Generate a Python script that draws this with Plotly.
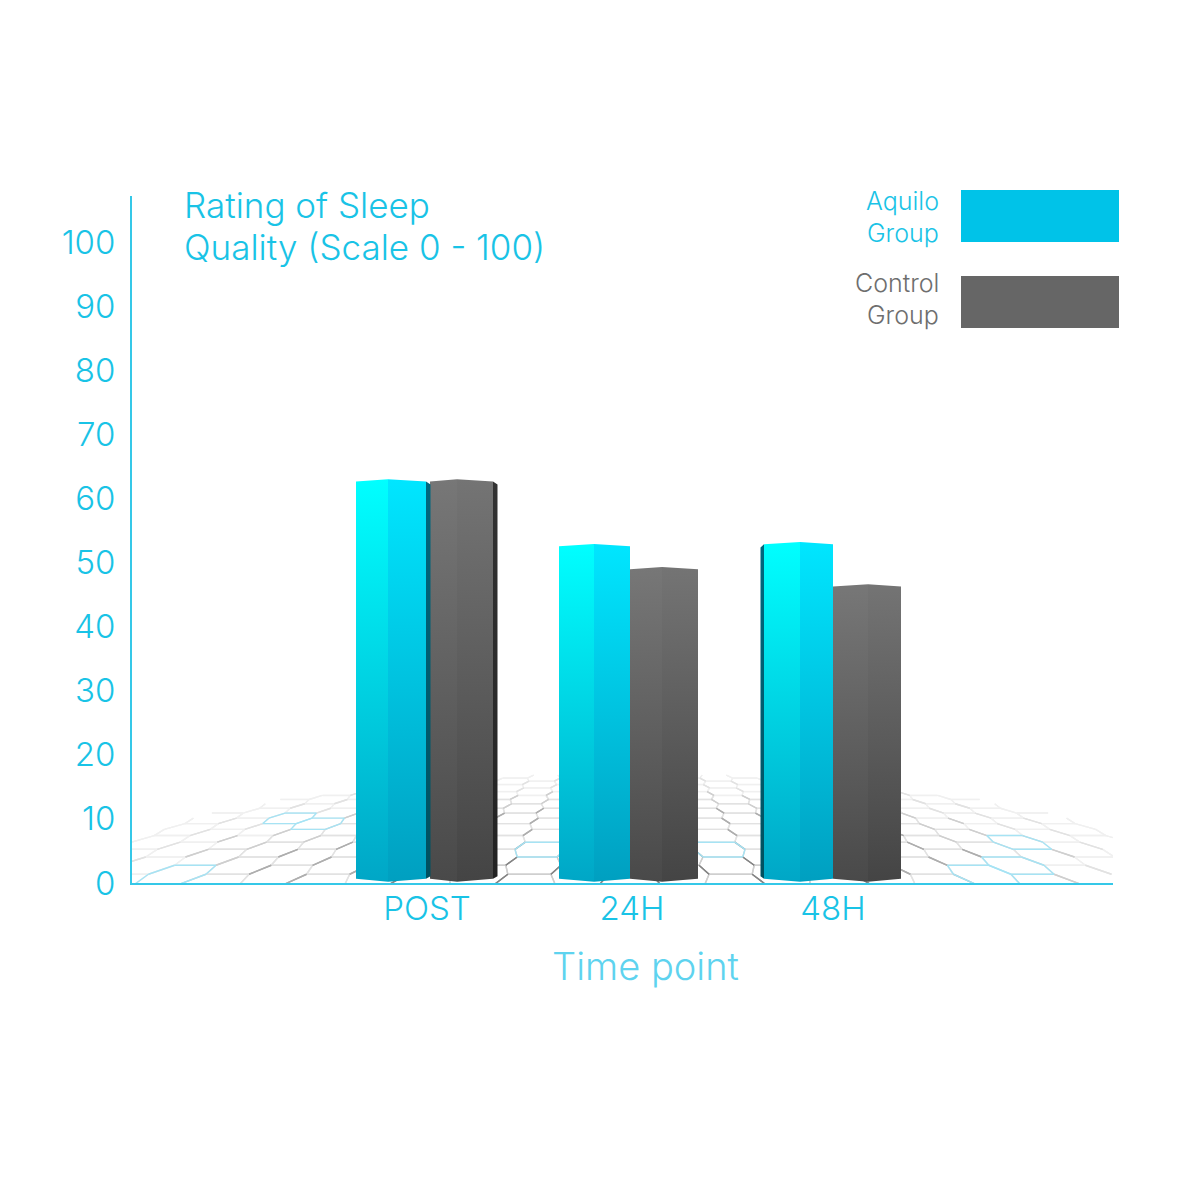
import numpy as np
import plotly.graph_objects as go

# Values
time_points = ['POST', '24H', '48H']
aquilo_values = [63.0, 52.9, 53.2]
control_values = [63.0, 49.3, 46.6]
y_ticks = [0, 10, 20, 30, 40, 50, 60, 70, 80, 90, 100]

CYAN = '#19c3e6'
FONT = 'Inter'
W = 1165  # page body keeps an 8px margin
OFFSET = 8
PX_PER_X = 202.5
PX_PER_Y = 6.41
X0_PX = 427
Y0_PX = 883


def px_x(px):
    return (px - X0_PX) / PX_PER_X


def px_y(px):
    return (Y0_PX - px) / PX_PER_Y


fig = go.Figure()

# rough spots of the pale blue tiles on the floor
blue_tiles = [(195, 870), (295, 822), (1000, 870), (1038, 848), (728, 850), (535, 850)]


# Tiled floor behind the bars, drawn in perspective and faded by distance
def floor_segments():
    buckets = {}
    cx, horizon, ground = 630, 650, 884
    scale = 30
    k = 0.05
    a, b, h = 1.0, 0.75, 0.87
    tile = [(a, 0), (b, h), (-b, h), (-a, 0), (-b, -h), (b, -h), (a, 0)]
    for row in range(0, 25):
        for col in range(-16, 17):
            offset = 0.5 if row % 2 else 0
            u = (col + offset) * 2 * (a + b)
            v = row * h
            pts = []
            for tx, ty in tile:
                depth = 1 + (v + ty) * k
                pts.append((cx + (u + tx) * scale / depth, ground - (ground - horizon) * (1 - 1 / depth)))
            centre_x = sum(p[0] for p in pts[:6]) / 6
            centre_y = sum(p[1] for p in pts[:6]) / 6
            is_blue = any(abs(centre_x - bx) < 30 and abs(centre_y - by) < 7 for bx, by in blue_tiles)
            for i in range(6):
                (x1, y1), (x2, y2) = pts[i], pts[i + 1]
                mx, my = (x1 + x2) / 2, (y1 + y2) / 2
                if mx < 75 or mx > 1118 or my > 881:
                    continue
                r = np.hypot((mx - cx) / 550, (884 - my) / 112)
                fade = 1 - r
                if fade < 0.02:
                    continue
                fade = fade ** 0.6
                # only the strokes leaning with the perspective read dark
                strong = i in ((0, 3) if mx > cx else (2, 5))
                if is_blue:
                    level = 'blue'
                else:
                    level = min(int(fade * (6.0 if strong else 2.6)), 4)
                buckets.setdefault(level, []).append((x1, y1, x2, y2))
    return buckets


floor_colors = {0: '#f0f0f0', 1: '#e2e2e2', 2: '#cfcfcf', 3: '#aeaeae', 4: '#858585', 'blue': '#a6e3f4'}
for level, segs in sorted(floor_segments().items(), key=lambda kv: str(kv[0])):
    xs, ys = [], []
    for x1, y1, x2, y2 in segs:
        xs += [px_x(x1), px_x(x2), None]
        ys += [px_y(y1), px_y(y2), None]
    fig.add_trace(go.Scatter(x=xs, y=ys, mode='lines', cliponaxis=False,
                             line=dict(color=floor_colors[level], width=1.4),
                             hoverinfo='skip', showlegend=False))


# One face of a prism bar with a vertical gradient
def add_face(x_from, x_to, y_from, y_to, base_from, base_to, value, top_color, bottom_color):
    fig.add_trace(go.Scatter(
        x=[x_from, x_to, x_to, x_from, x_from],
        y=[y_from, y_to, base_to, base_from, y_from],
        mode='lines',
        line=dict(width=0),
        fill='toself',
        fillgradient=dict(type='vertical', colorscale=[[0, top_color], [1, bottom_color]],
                          start=value, stop=0),
        hoverinfo='skip',
        showlegend=False,
    ))


def add_bar(left_px, ridge_px, right_px, value, palette, dark_side=None):
    ridge_drop = 0.35
    left, ridge, right = px_x(left_px), px_x(ridge_px), px_x(right_px)
    base_edge, base_ridge = 0.65, 0.2
    add_face(left, ridge, value - ridge_drop, value, base_edge, base_ridge, value, palette[0], palette[1])
    add_face(ridge, right, value, value - ridge_drop, base_ridge, base_edge, value, palette[2], palette[3])
    if dark_side == 'right':
        edge = px_x(right_px + 4.5)
        add_face(right, edge, value - ridge_drop, value - ridge_drop - 0.5, base_edge, base_edge + 0.4,
                 value, palette[4], palette[5])
    elif dark_side == 'left':
        edge = px_x(left_px - 3.5)
        add_face(edge, left, value - ridge_drop - 0.5, value - ridge_drop, base_edge + 0.4, base_edge,
                 value, palette[4], palette[5])


aquilo_palette = ['#00ffff', '#00a6c6', '#00e6ff', '#009fc0', '#00687f', '#00505f']
control_palette = ['#777777', '#494949', '#747474', '#444444', '#333333', '#222222']

# pixel edges of each bar: left, ridge, right
aquilo_edges = [(356, 388, 426), (559, 594, 630), (764, 800, 833)]
control_edges = [(430, 457, 493), (630, 662, 698), (833, 868, 901)]
aquilo_sides = ['right', None, 'left']
control_sides = ['right', None, None]

for i in range(len(time_points)):
    add_bar(*control_edges[i], control_values[i], control_palette, control_sides[i])
    add_bar(*aquilo_edges[i], aquilo_values[i], aquilo_palette, aquilo_sides[i])

fig.update_xaxes(
    range=[px_x(132), px_x(1113)],
    tickmode='array',
    tickvals=[0, px_x(632), px_x(833)],
    ticktext=time_points,
    tickfont=dict(family=FONT, size=33, color=CYAN, weight=300),
    ticks='', ticklabelstandoff=-5,
    showgrid=False, zeroline=False,
    showline=True, linecolor='#35c8e8', linewidth=2,
)
fig.update_yaxes(
    range=[0, px_y(196)],
    tickmode='array',
    tickvals=y_ticks,
    tickfont=dict(family=FONT, size=33, color=CYAN, weight=300),
    ticks='outside', ticklen=8, tickcolor='rgba(0,0,0,0)',
    showgrid=False, zeroline=False,
    showline=True, linecolor='#35c8e8', linewidth=2,
)


def text(x, y, label, color, size, anchor='left'):
    fig.add_annotation(xref='paper', yref='paper', x=(x - 132) / 981, y=(883 - y) / 687,
                       text=label, showarrow=False, xanchor=anchor, yanchor='middle',
                       font=dict(family=FONT, size=size, color=color, weight=300))


text(182, 205, 'Rating of Sleep', CYAN, 35)
text(182, 247, 'Quality (Scale 0 - 100)', CYAN, 35)
text(941, 201, 'Aquilo', CYAN, 25, 'right')
text(941, 233, 'Group', CYAN, 25, 'right')
text(941, 283, 'Control', '#6e6e6e', 25, 'right')
text(941, 315, 'Group', '#6e6e6e', 25, 'right')
text(645, 966, 'Time point', '#5ed3ef', 38, 'center')

for top, bottom, color in [(190, 242, '#00c3e8'), (276, 328, '#666666')]:
    fig.add_shape(type='rect', xref='paper', yref='paper',
                  x0=(961 - 132) / 981, x1=(1119 - 132) / 981,
                  y0=(883 - bottom) / 687, y1=(883 - top) / 687,
                  fillcolor=color, line=dict(width=0))

fig.update_layout(
    width=W, height=W,
    margin=dict(l=132 - OFFSET, r=W + OFFSET - 1113, t=196 - OFFSET, b=W + OFFSET - 883, pad=0),
    plot_bgcolor='white',
    paper_bgcolor='white',
    showlegend=False,
)

fig.write_html("out.html")
